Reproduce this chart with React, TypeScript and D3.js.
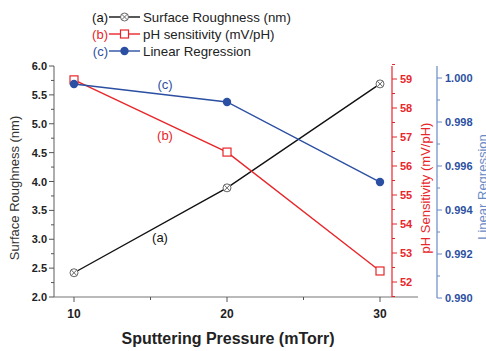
import React, { useEffect, useRef } from 'react';
import * as d3 from 'd3';

const pressure = [10, 20, 30];
const roughness = [2.42, 3.89, 5.69];
const phSensitivity = [58.97, 56.48, 52.38];
const linearRegression = [0.99973, 0.99891, 0.99527];

const xTicks = [10, 20, 30];
const leftTicks = [2.0, 2.5, 3.0, 3.5, 4.0, 4.5, 5.0, 5.5, 6.0];
const redTicks = [52, 53, 54, 55, 56, 57, 58, 59];
const blueTicks = [0.99, 0.992, 0.994, 0.996, 0.998, 1.0];

const legendItems = [
  { tag: '(a)', label: 'Surface Roughness (nm)', color: '#111', marker: 'xcircle' },
  { tag: '(b)', label: 'pH sensitivity (mV/pH)', color: '#e8262a', marker: 'square' },
  { tag: '(c)', label: 'Linear Regression', color: '#2b4fa2', marker: 'dot' },
];

const RED = '#e8262a';
const BLUE = '#2b4fa2';
const BLUE_AXIS = '#6a8ac6';
const FONT = 'Liberation Sans, Arial, sans-serif';

const App = () => {
  const ref = useRef<SVGSVGElement>(null);

  useEffect(() => {
    const svg = d3.select(ref.current);
    svg.selectAll('*').remove();
    const left = 54, bottom = 297, top = 66;
    const redX = 392, blueX = 437, xEnd = 418;

    const x = d3.scaleLinear().domain([10, 30]).range([74, 380]);
    const yL = d3.scaleLinear().domain([2, 6]).range([bottom, top]);
    const yR = d3.scaleLinear().domain([52, 59]).range([282, 79]);
    const yB = d3.scaleLinear().domain([0.99, 1.0]).range([298, 78]);

    const g = svg.append('g').style('font-family', FONT);

    // x axis
    g.append('line').attr('x1', left).attr('x2', xEnd).attr('y1', bottom).attr('y2', bottom)
      .attr('stroke', '#777').attr('stroke-width', 1.2);
    [10, 15, 20, 25, 30].forEach(v => {
      g.append('line').attr('x1', x(v)).attr('x2', x(v)).attr('y1', bottom)
        .attr('y2', bottom + (v % 10 === 0 ? 5 : 3)).attr('stroke', '#555');
    });
    xTicks.forEach(v => {
      g.append('text').attr('x', x(v)).attr('y', bottom + 21).attr('text-anchor', 'middle')
        .attr('font-size', 12).attr('font-weight', 'bold').attr('fill', '#222').text(v);
    });
    g.append('text').attr('x', 228).attr('y', 344).attr('text-anchor', 'middle')
      .attr('font-size', 16).attr('font-weight', 'bold').attr('fill', '#222')
      .text('Sputtering Pressure (mTorr)');

    // left axis
    g.append('line').attr('x1', left).attr('x2', left).attr('y1', top).attr('y2', bottom)
      .attr('stroke', '#777').attr('stroke-width', 1.2);
    d3.range(2, 6.01, 0.25).forEach(v => {
      const major = Math.abs(v * 2 - Math.round(v * 2)) < 1e-6;
      g.append('line').attr('x1', left).attr('x2', left - (major ? 5 : 3))
        .attr('y1', yL(v)).attr('y2', yL(v)).attr('stroke', '#555');
    });
    leftTicks.forEach(v => {
      g.append('text').attr('x', left - 7).attr('y', yL(v) + 4).attr('text-anchor', 'end')
        .attr('font-size', 11).attr('font-weight', 'bold').attr('fill', '#222').text(v.toFixed(1));
    });
    g.append('text').attr('transform', `translate(19,188) rotate(-90)`).attr('text-anchor', 'middle')
      .attr('font-size', 13).attr('fill', '#333').text('Surface Roughness (nm)');

    // red axis
    g.append('line').attr('x1', redX).attr('x2', redX).attr('y1', top).attr('y2', bottom)
      .attr('stroke', RED).attr('stroke-width', 1.2);
    d3.range(51.5, 59.51, 0.5).forEach(v => {
      const major = Number.isInteger(v);
      g.append('line').attr('x1', redX).attr('x2', redX + (major ? 5 : 3))
        .attr('y1', yR(v)).attr('y2', yR(v)).attr('stroke', RED);
    });
    redTicks.forEach(v => {
      g.append('text').attr('x', redX + 8).attr('y', yR(v) + 4)
        .attr('font-size', 11).attr('font-weight', 'bold').attr('fill', RED).text(v);
    });
    g.append('text').attr('transform', `translate(430,188) rotate(-90)`).attr('text-anchor', 'middle')
      .attr('font-size', 13).attr('fill', RED).text('pH Sensitivity (mV/pH)');

    // blue axis
    g.append('line').attr('x1', blueX).attr('x2', blueX).attr('y1', top).attr('y2', bottom + 1)
      .attr('stroke', BLUE_AXIS).attr('stroke-width', 1.2);
    d3.range(0.99, 1.0001, 0.001).forEach((v, i) => {
      g.append('line').attr('x1', blueX).attr('x2', blueX + (i % 2 === 0 ? 5 : 3))
        .attr('y1', yB(v)).attr('y2', yB(v)).attr('stroke', BLUE_AXIS);
    });
    blueTicks.forEach(v => {
      g.append('text').attr('x', blueX + 8).attr('y', yB(v) + 4)
        .attr('font-size', 11).attr('font-weight', 'bold').attr('fill', BLUE).text(v.toFixed(3));
    });
    g.append('text').attr('transform', `translate(487,187) rotate(-90)`).attr('text-anchor', 'middle')
      .attr('font-size', 13).attr('fill', BLUE_AXIS).text('Linear Regression');

    // markers
    const drawMarker = (sel: any, type: string, cx: number, cy: number, color: string) => {
      if (type === 'xcircle') {
        const r = 4;
        sel.append('circle').attr('cx', cx).attr('cy', cy).attr('r', r).attr('fill', 'white')
          .attr('stroke', '#666').attr('stroke-width', 1);
        const d = r * 0.7;
        sel.append('path').attr('d', `M${cx - d},${cy - d}L${cx + d},${cy + d}M${cx - d},${cy + d}L${cx + d},${cy - d}`)
          .attr('stroke', '#666').attr('stroke-width', 1);
      } else if (type === 'square') {
        sel.append('rect').attr('x', cx - 4).attr('y', cy - 4).attr('width', 8).attr('height', 8)
          .attr('fill', 'white').attr('stroke', color).attr('stroke-width', 1.2);
      } else {
        sel.append('circle').attr('cx', cx).attr('cy', cy).attr('r', 4.2).attr('fill', color);
      }
    };

    const series = [
      { values: roughness, y: yL, color: '#111', marker: 'xcircle' },
      { values: phSensitivity, y: yR, color: RED, marker: 'square' },
      { values: linearRegression, y: yB, color: BLUE, marker: 'dot' },
    ];
    series.forEach(s => {
      const line = d3.line<number>().x((_, i) => x(pressure[i])).y(d => s.y(d));
      g.append('path').attr('d', line(s.values)).attr('fill', 'none')
        .attr('stroke', s.color).attr('stroke-width', 1.4);
    });
    series.forEach(s => {
      s.values.forEach((v, i) => drawMarker(g, s.marker, x(pressure[i]), s.y(v), s.color));
    });

    // annotations
    g.append('text').attr('x', 165).attr('y', 89).attr('text-anchor', 'middle')
      .attr('font-size', 13).attr('fill', BLUE).text('(c)');
    g.append('text').attr('x', 165).attr('y', 140).attr('text-anchor', 'middle')
      .attr('font-size', 13).attr('fill', RED).text('(b)');
    g.append('text').attr('x', 160).attr('y', 242).attr('text-anchor', 'middle')
      .attr('font-size', 13).attr('fill', '#111').text('(a)');

    // legend
    legendItems.forEach((item, i) => {
      const cy = 17 + i * 17;
      g.append('text').attr('x', 108).attr('y', cy + 4.5).attr('text-anchor', 'end')
        .attr('font-size', 13).attr('fill', item.color).text(item.tag);
      g.append('line').attr('x1', 109).attr('x2', 140).attr('y1', cy).attr('y2', cy)
        .attr('stroke', item.color).attr('stroke-width', 1.4);
      drawMarker(g, item.marker, 124.5, cy, item.color);
      g.append('text').attr('x', 143).attr('y', cy + 4.5)
        .attr('font-size', 13.3).attr('fill', '#222').text(item.label);
    });
  }, []);

  return (
    <svg ref={ref} width={486} height={351}
      style={{ position: 'absolute', left: 0, top: 0, background: 'white' }} />
  );
};

export default App;
